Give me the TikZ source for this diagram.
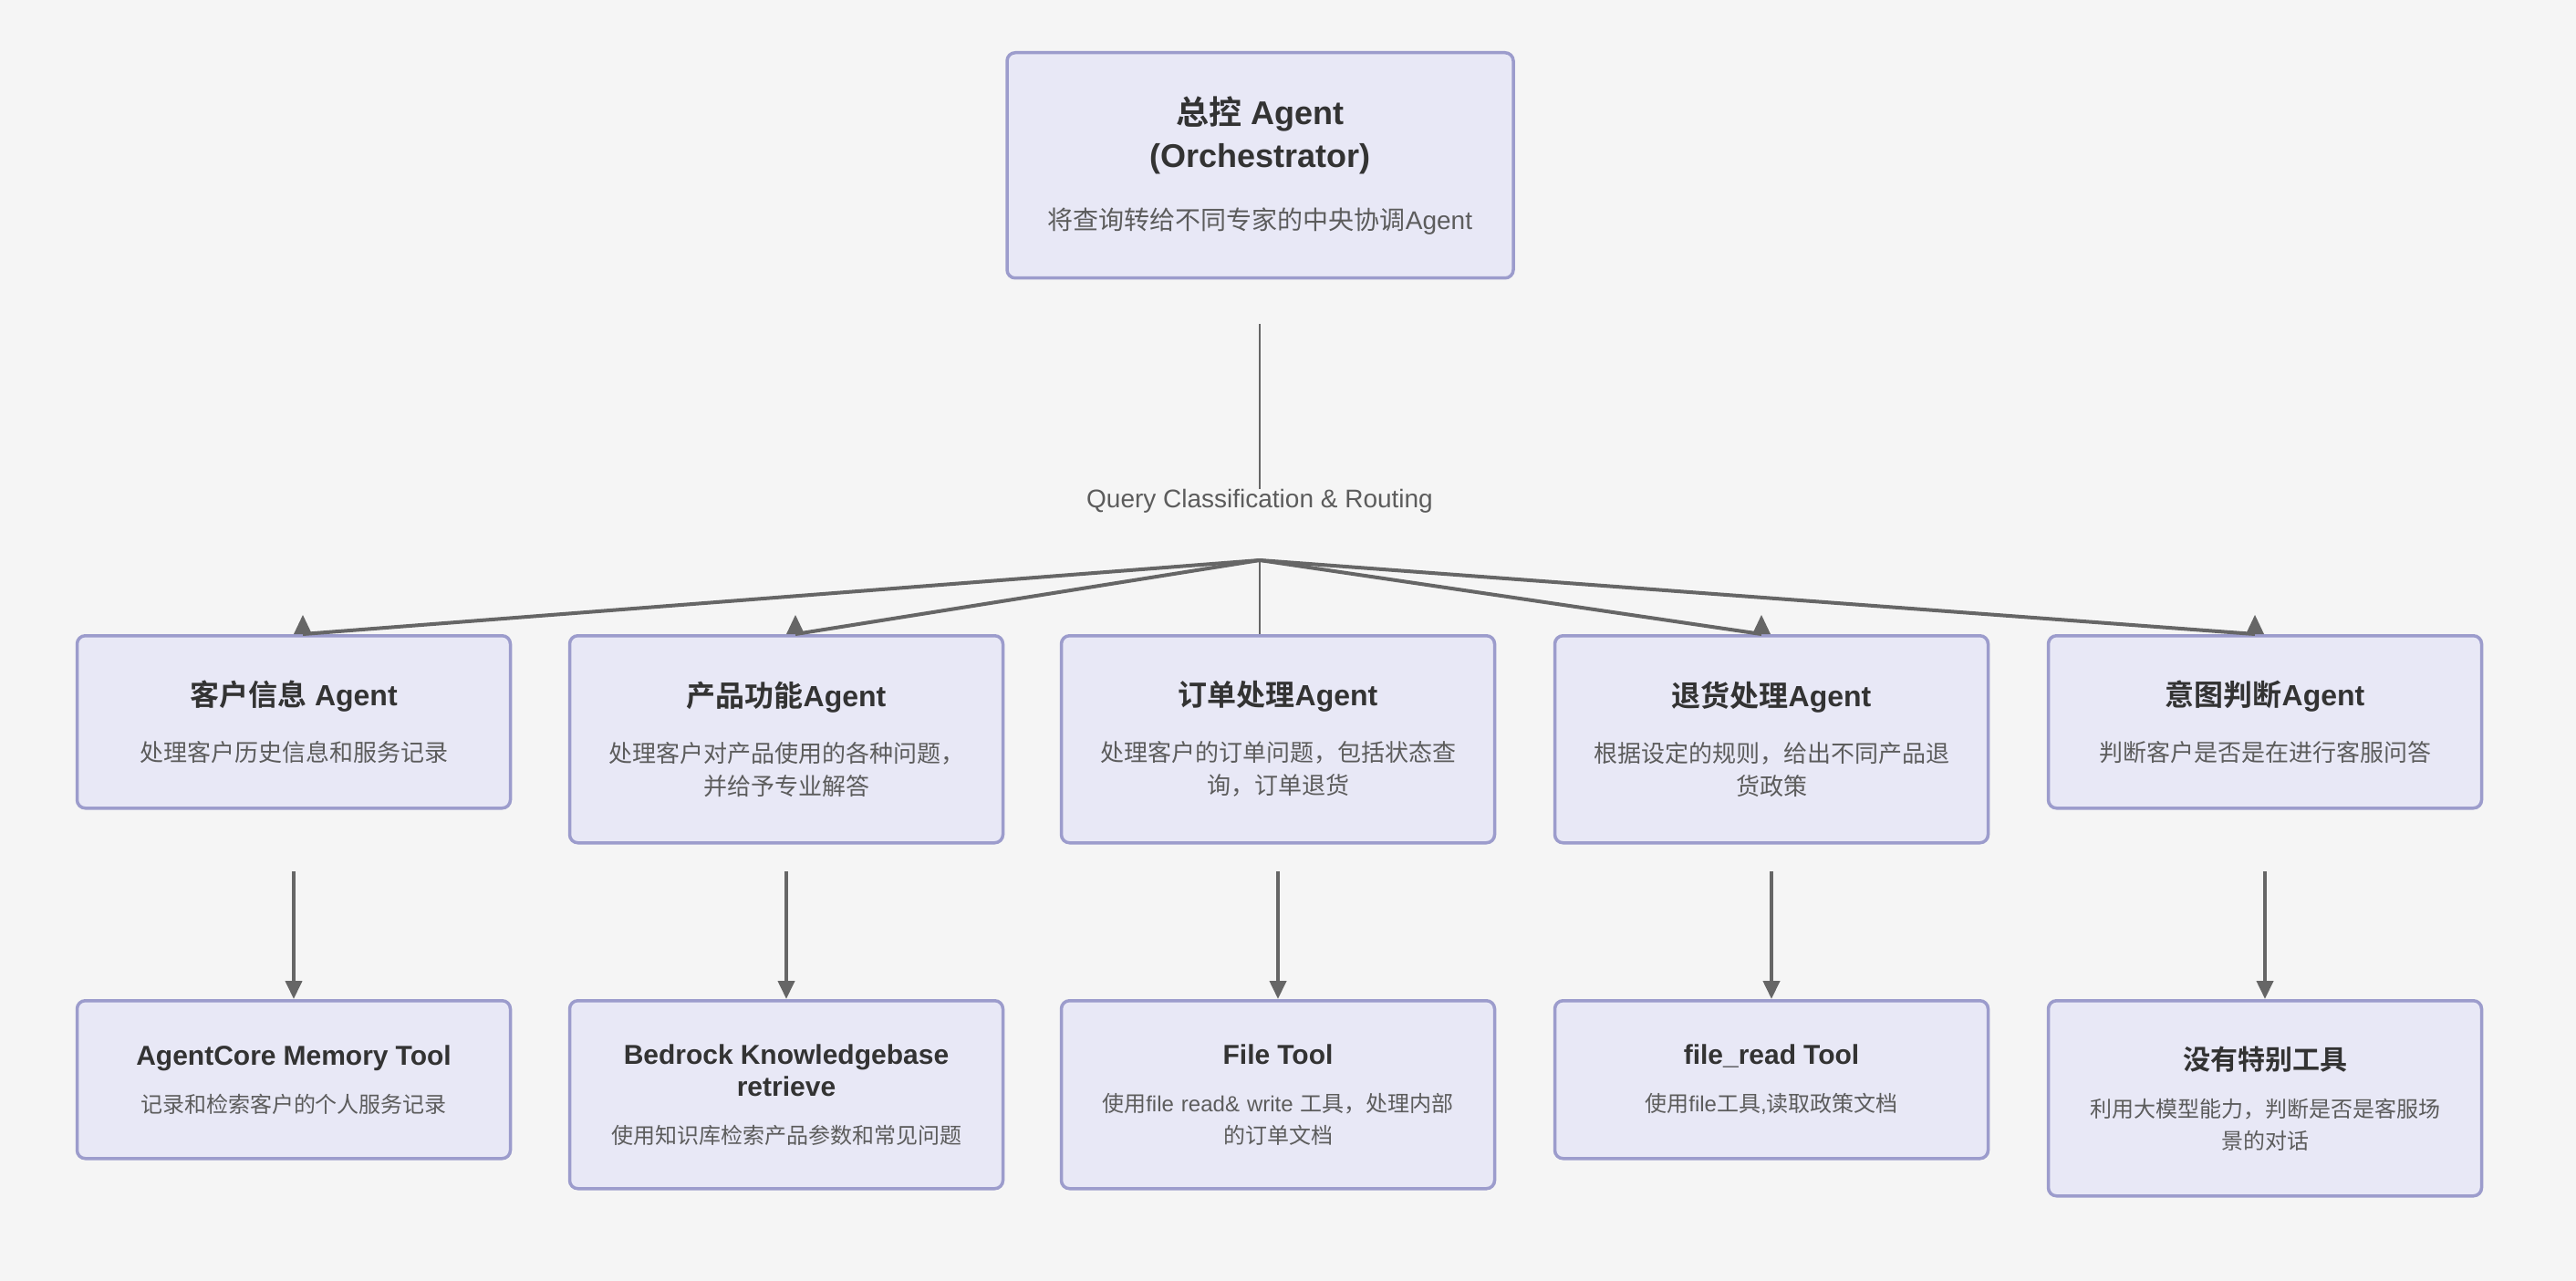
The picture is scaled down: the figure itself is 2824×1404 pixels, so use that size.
\documentclass[tikz,border=0pt]{standalone}
\usepackage{fontspec}
\setmainfont{Liberation Sans}
\newfontfamily\cjk{Noto Sans CJK SC}[BoldFont = {Noto Sans CJK SC Bold}]
\usetikzlibrary{arrows.meta}

\definecolor{bgcol}{HTML}{F5F5F5}
\definecolor{boxfill}{HTML}{E8E8F6}
\definecolor{boxline}{HTML}{9C9CCC}
\definecolor{linecol}{HTML}{666666}
\definecolor{titlecol}{HTML}{333333}
\definecolor{desccol}{HTML}{5C5C5C}

\newcommand\zh[1]{{\cjk #1}}
\newcommand\toptitle{\fontsize{36}{47}\selectfont\bfseries\color{titlecol}}
\newcommand\agtitle{\fontsize{32}{36}\selectfont\bfseries\color{titlecol}}
\newcommand\tooltitle{\fontsize{30}{35}\selectfont\bfseries\color{titlecol}}
\newcommand\uptip[1]{\fill [linecol] (#1) ++(-10,0) -- ++(10,-21) -- ++(10,21) -- cycle;}

\tikzset{
    card/.style = {draw = boxline, fill = boxfill, line width = 3.5, rounded corners = 9,
                   anchor = north, align = center, inner sep = 0, text = desccol},
    agentcard/.style = {card, minimum width = 475pt, text width = 460pt, font = \fontsize{26}{36}\selectfont},
    toolcard/.style = {card, minimum width = 475pt, text width = 460pt, font = \fontsize{24}{35}\selectfont},
    fork line/.style = {linecol, line width = 4},
    thin line/.style = {linecol, line width = 2},
    drop arrow/.style = {linecol, line width = 4, -{Triangle[width = 18pt, length = 20pt]}}
}

\begin{document}
\begin{tikzpicture}[x = 1pt, y = -1pt]
    \useasboundingbox [fill = bgcol] (0,0) rectangle (2824,1404);

    \node [card, minimum width = 555pt, minimum height = 247pt, text width = 540pt,
           font = \fontsize{28}{47}\selectfont] (boss) at (1381.5,56)
        {{\toptitle \zh{总控} Agent}\\{\toptitle (Orchestrator)}\\[21pt]\zh{将查询转给不同专家的中央协调}Agent};

    \node [agentcard, minimum height = 189pt] (agent1) at (322,695)
        {{\agtitle \zh{客户信息} Agent}\\[25pt]\zh{处理客户历史信息和服务记录}};
    \node [agentcard, minimum height = 227pt] (agent2) at (862,695)
        {{\agtitle \zh{产品功能}Agent}\\[25pt]\zh{处理客户对产品使用的各种问题，}\\\zh{并给予专业解答}};
    \node [agentcard, minimum height = 227pt] (agent3) at (1401,695)
        {{\agtitle \zh{订单处理}Agent}\\[25pt]\zh{处理客户的订单问题，包括状态查}\\\zh{询，订单退货}};
    \node [agentcard, minimum height = 227pt] (agent4) at (1942,695)
        {{\agtitle \zh{退货处理}Agent}\\[25pt]\zh{根据设定的规则，给出不同产品退}\\\zh{货政策}};
    \node [agentcard, minimum height = 189pt] (agent5) at (2483,695)
        {{\agtitle \zh{意图判断}Agent}\\[25pt]\zh{判断客户是否是在进行客服问答}};

    \node [toolcard, minimum height = 173pt] (tool1) at (322,1095)
        {{\tooltitle AgentCore Memory Tool}\\[17pt]\zh{记录和检索客户的个人服务记录}};
    \node [toolcard, minimum height = 206pt] (tool2) at (862,1095)
        {{\tooltitle Bedrock Knowledgebase}\\{\tooltitle retrieve}\\[17pt]\zh{使用知识库检索产品参数和常见问题}};
    \node [toolcard, minimum height = 206pt] (tool3) at (1401,1095)
        {{\tooltitle File Tool}\\[17pt]\zh{使用}file read\& write \zh{工具，处理内部}\\\zh{的订单文档}};
    \node [toolcard, minimum height = 173pt] (tool4) at (1942,1095)
        {{\tooltitle file\_read Tool}\\[17pt]\zh{使用}file\zh{工具}{,}\zh{读取政策文档}};
    \node [toolcard, minimum height = 214pt] (tool5) at (2483,1095)
        {{\tooltitle \zh{没有特别工具}}\\[17pt]\zh{利用大模型能力，判断是否是客服场}\\\zh{景的对话}};

    \coordinate (qtop) at (1381,355);
    \node [inner sep = 0, text = desccol, font = \fontsize{28}{34}\selectfont] (route) at (1381,549)
        {Query Classification \& Routing};
    \coordinate (fork) at (1381,614);
    \coordinate (in1) at ([xshift = 10pt]agent1.north);
    \coordinate (in2) at ([xshift = 10pt]agent2.north);
    \coordinate (in4) at ([xshift = -11pt]agent4.north);
    \coordinate (in5) at ([xshift = -11pt]agent5.north);
    \coordinate (drop) at (0,955);

    \draw [thin line] (qtop) -- (route.north);
    \draw [thin line] (fork) -- (agent3.north -| fork);

    \draw [fork line] (fork) -- (in1);
    \draw [fork line] (fork) -- (in2);
    \draw [fork line] (fork) -- (in4);
    \draw [fork line] (fork) -- (in5);

    \uptip{in1}
    \uptip{in2}
    \uptip{in4}
    \uptip{in5}

    \draw [drop arrow] (agent1.south |- drop) -- (tool1.north);
    \draw [drop arrow] (agent2.south |- drop) -- (tool2.north);
    \draw [drop arrow] (agent3.south |- drop) -- (tool3.north);
    \draw [drop arrow] (agent4.south |- drop) -- (tool4.north);
    \draw [drop arrow] (agent5.south |- drop) -- (tool5.north);
\end{tikzpicture}
\end{document}
